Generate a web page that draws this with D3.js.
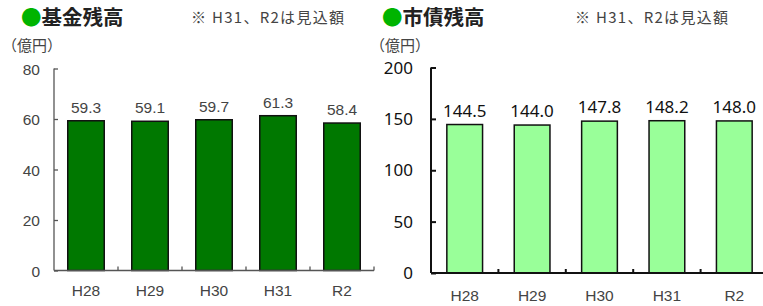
<!DOCTYPE html>
<html lang="ja">
<head>
<meta charset="UTF-8">
<title>基金残高・市債残高</title>
<script src="https://cdnjs.cloudflare.com/ajax/libs/d3/7.8.5/d3.min.js"></script>
<style>
  body { margin: 0; background: #fff; }
  svg { display: block; }
</style>
</head>
<body>
<div id="chart"></div>
<script>
// データ
const years = ['H28', 'H29', 'H30', 'H31', 'R2'];
const fundValues = [59.3, 59.1, 59.7, 61.3, 58.4];
const debtValues = [144.5, 144.0, 147.8, 148.2, 148.0];
const fundTicks = [0, 20, 40, 60, 80];
const debtTicks = [0, 50, 100, 150, 200];

const jp = '"Noto Sans CJK JP", "Noto Sans", sans-serif';
const thin = '"Liberation Sans", Arial, sans-serif';

const svg = d3.select('#chart').append('svg')
  .attr('width', 763)
  .attr('height', 306);

function drawPanel(opt) {
  const g = svg.append('g');

  // タイトル
  const title = g.append('text')
    .attr('x', opt.titleX).attr('y', 25)
    .attr('font-family', jp).attr('font-size', 20.5).attr('font-weight', 'bold')
    .attr('fill', '#222');
  title.append('tspan').attr('fill', '#00b400').text('●');
  title.append('tspan').text(opt.title);

  g.append('text')
    .attr('x', opt.noteX).attr('y', 23)
    .attr('font-family', jp).attr('font-size', 15).attr('fill', '#444')
    .attr('textLength', 153).attr('lengthAdjust', 'spacing')
    .text('※ H31、R2は見込額');

  g.append('text')
    .attr('x', opt.unitX).attr('y', 51)
    .attr('font-family', jp).attr('font-size', 15).attr('fill', '#444')
    .attr('textLength', 60).attr('lengthAdjust', 'spacing')
    .text('（億円）');

  const x = d3.scaleBand()
    .domain(years)
    .range([opt.left, opt.right])
    .paddingInner(opt.pad)
    .paddingOuter(opt.pad / 2);

  const y = d3.scaleLinear()
    .domain([0, opt.max])
    .range([opt.bottom, opt.top]);

  // y軸
  const yAxis = g.append('g')
    .attr('transform', `translate(${opt.left},0)`)
    .call(d3.axisRight(y).tickValues(opt.ticks).tickSize(opt.tickLen).tickFormat(''));
  yAxis.select('.domain').remove();
  yAxis.selectAll('.tick line').attr('stroke', opt.axisColor).attr('stroke-width', opt.axisWidth);

  g.append('line')
    .attr('x1', opt.left).attr('x2', opt.left)
    .attr('y1', y(opt.max)).attr('y2', opt.bottom)
    .attr('stroke', opt.axisColor).attr('stroke-width', opt.axisWidth);

  g.selectAll('.ylab').data(opt.ticks).enter().append('text')
    .attr('x', opt.labelRight)
    .attr('y', d => y(d) + 6)
    .attr('text-anchor', 'end')
    .attr('font-family', opt.tickFont).attr('font-size', opt.tickSize)
    .attr('fill', opt.tickColor)
    .text(d => d);

  // 棒
  g.selectAll('.bar').data(opt.values).enter().append('rect')
    .attr('x', (d, i) => x(years[i]))
    .attr('y', d => y(d))
    .attr('width', x.bandwidth())
    .attr('height', d => opt.bottom - y(d))
    .attr('fill', opt.color)
    .attr('stroke', '#111').attr('stroke-width', 1.5);

  // x軸
  const step = x.step();
  g.append('line')
    .attr('x1', opt.left).attr('x2', opt.right)
    .attr('y1', opt.bottom).attr('y2', opt.bottom)
    .attr('stroke', opt.axisColor).attr('stroke-width', opt.axisWidth);
  g.selectAll('.xtick').data(d3.range(1, years.length + 1)).enter().append('line')
    .attr('x1', i => opt.left + i * step).attr('x2', i => opt.left + i * step)
    .attr('y1', opt.bottom).attr('y2', opt.bottom - 4)
    .attr('stroke', opt.axisColor).attr('stroke-width', opt.axisWidth);

  g.selectAll('.xlab').data(years).enter().append('text')
    .attr('x', d => x(d) + x.bandwidth() / 2)
    .attr('y', opt.xLabelY)
    .attr('text-anchor', 'middle')
    .attr('font-family', thin).attr('font-size', 15.5)
    .attr('fill', '#444')
    .text(d => d);

  // 値ラベル
  g.selectAll('.val').data(opt.values).enter().append('text')
    .attr('x', (d, i) => x(years[i]) + x.bandwidth() / 2)
    .attr('y', d => y(d) - 8)
    .attr('text-anchor', 'middle')
    .attr('font-family', opt.valFont).attr('font-size', opt.valSize)
    .attr('fill', opt.valColor)
    .text(d => d.toFixed(1));
}

drawPanel({
  title: '基金残高', titleX: 21, noteX: 191, unitX: 2,
  left: 54, right: 374, top: 68.5, bottom: 270.5, max: 80,
  ticks: fundTicks, values: fundValues, pad: 0.43,
  color: '#007800', axisColor: '#555', axisWidth: 1.3, tickLen: 4,
  labelRight: 40, tickFont: thin, tickSize: 15.5, tickColor: '#444',
  valFont: thin, valSize: 15.5, valColor: '#444', xLabelY: 296
});

drawPanel({
  title: '市債残高', titleX: 382, noteX: 575, unitX: 370,
  left: 431, right: 768, top: 67.5, bottom: 273, max: 200,
  ticks: debtTicks, values: debtValues, pad: 0.47,
  color: '#99ff99', axisColor: '#111', axisWidth: 2, tickLen: 5,
  labelRight: 413, tickFont: '"Noto Sans", sans-serif', tickSize: 17, tickColor: '#111',
  valFont: '"Noto Sans", sans-serif', valSize: 17, valColor: '#111', xLabelY: 301
});
</script>
</body>
</html>
